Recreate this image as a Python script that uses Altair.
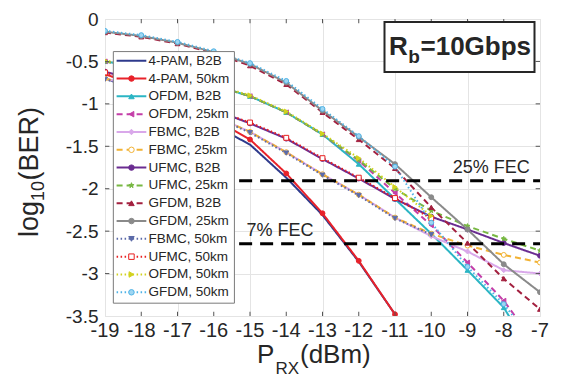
import altair as alt
import pandas as pd

# ---------------- data ----------------
SERIES = ["4-PAM, B2B", "4-PAM, 50km", "OFDM, B2B", "OFDM, 25km", "FBMC, B2B",
          "FBMC, 25km", "UFMC, B2B", "UFMC, 25km", "GFDM, B2B", "GFDM, 25km",
          "FBMC, 50km", "UFMC, 50km", "OFDM, 50km", "GFDM, 50km"]

P_FULL = [-19, -18, -17, -16, -15, -14, -13, -12, -11, -10, -9, -8, -7]
P_TO_11 = [-19, -18, -17, -16, -15, -14, -13, -12, -11]
P_TO_10 = [-19, -18, -17, -16, -15, -14, -13, -12, -11, -10]

PAM_B2B = [-0.70, -0.85, -1.03, -1.25, -1.48, -1.87, -2.31, -2.86, -3.48]
PAM_50 = [-0.65, -0.80, -0.97, -1.18, -1.42, -1.82, -2.29, -2.85, -3.48]
OFDM_B2B = [-0.50, -0.57, -0.66, -0.78, -0.91, -1.10, -1.36, -1.71, -2.12, -2.53, -2.96, -3.40, -4.10]
OFDM_25 = [-0.50, -0.57, -0.66, -0.78, -0.91, -1.10, -1.36, -1.67, -2.05, -2.43, -2.87, -3.32, -3.90]
OFDM_50 = [-0.49, -0.56, -0.65, -0.77, -0.90, -1.09, -1.35, -1.64, -1.98, -2.32]
FBMC_B2B = [-0.70, -0.82, -0.97, -1.14, -1.33, -1.57, -1.83, -2.07, -2.34, -2.56, -2.74, -2.96, -3.00]
FBMC_25 = [-0.70, -0.82, -0.97, -1.14, -1.33, -1.57, -1.83, -2.07, -2.34, -2.53, -2.67, -2.78, -2.87]
FBMC_50 = [-0.71, -0.83, -0.98, -1.15, -1.34, -1.58, -1.84, -2.08, -2.35, -2.54]
UFMC_B2B = [-0.62, -0.74, -0.88, -1.07, -1.23, -1.41, -1.65, -1.88, -2.12, -2.33, -2.48, -2.64, -2.79]
UFMC_25 = [-0.50, -0.57, -0.66, -0.78, -0.91, -1.10, -1.36, -1.66, -2.00, -2.26, -2.44, -2.59, -2.73]
UFMC_50 = [-0.63, -0.75, -0.89, -1.07, -1.22, -1.40, -1.64, -1.87, -2.11, -2.35]
GFDM_B2B = [-0.16, -0.21, -0.29, -0.40, -0.55, -0.77, -1.10, -1.42, -1.76, -2.22, -2.64, -3.06, -3.42]
GFDM_25 = [-0.15, -0.20, -0.28, -0.39, -0.53, -0.75, -1.08, -1.39, -1.71, -2.10, -2.48, -2.89, -3.22]
GFDM_50 = [-0.14, -0.19, -0.27, -0.38, -0.52, -0.73, -1.06, -1.38, -1.74, -2.40, -2.92, -3.36, -3.90]

SERIES_DATA = {
    "4-PAM, B2B": (P_TO_11, PAM_B2B),
    "4-PAM, 50km": (P_TO_11, PAM_50),
    "OFDM, B2B": (P_FULL, OFDM_B2B),
    "OFDM, 25km": (P_FULL, OFDM_25),
    "FBMC, B2B": (P_FULL, FBMC_B2B),
    "FBMC, 25km": (P_FULL, FBMC_25),
    "UFMC, B2B": (P_FULL, UFMC_B2B),
    "UFMC, 25km": (P_FULL, UFMC_25),
    "GFDM, B2B": (P_FULL, GFDM_B2B),
    "GFDM, 25km": (P_FULL, GFDM_25),
    "FBMC, 50km": (P_TO_10, FBMC_50),
    "UFMC, 50km": (P_TO_10, UFMC_50),
    "OFDM, 50km": (P_TO_10, OFDM_50),
    "GFDM, 50km": (P_FULL, GFDM_50),
}

FEC_LABELS = ["25% FEC", "7% FEC"]
FEC_LEVELS = [-1.907, -2.648]
FEC_START = -15.3
FEC_LABEL_X = [-9.41, -15.10]

X_TICKS = P_FULL
X_TICK_LABELS = ["-19", "-18", "-17", "-16", "-15", "-14", "-13", "-12", "-11", "-10", "-9", "-8", "-7"]
Y_TICKS = [0, -0.5, -1, -1.5, -2, -2.5, -3, -3.5]
X_RANGE = [-19, -7]
Y_RANGE = [-3.5, 0]

# ---------------- styles ----------------
COLORS = ["#2e3a8c", "#e8222a", "#2bb5c4", "#c43ea8", "#d9a8ea", "#f2b233",
          "#6a2c91", "#78b843", "#a3203f", "#8a8a8a", "#5b6aa8", "#e82020",
          "#d2d21e", "#4fb3e6"]
SOLID, DASH, DOT = [1, 0], [6, 4], [1.5, 2.5]
DASHES = [SOLID, SOLID, SOLID, DASH, SOLID, DASH, SOLID, DASH, DASH, SOLID, DOT, DOT, DOT, DOT]
WIDTHS = [2, 2, 1.8, 1.8, 3, 1.8, 1.8, 1.8, 1.8, 1.8, 1.8, 1.8, 1.8, 1.8]
STAR = ("M0,-1L0.235,-0.324L0.951,-0.309L0.38,0.124L0.588,0.809L0,0.4L-0.588,0.809"
        "L-0.38,0.124L-0.951,-0.309L-0.235,-0.324Z")
SHAPES = ["circle", "circle", "triangle-up", "triangle-left", "diamond", "circle",
          "circle", STAR, "triangle-up", "circle", "triangle-down", "square",
          "triangle-right", "circle"]
FILLS = [COLORS[0], COLORS[1], COLORS[2], COLORS[3], COLORS[4], "white",
         COLORS[6], COLORS[7], COLORS[8], COLORS[9], COLORS[10], "white",
         COLORS[12], "#9fd6f2"]

rows = []
for name in SERIES:
    xs_, ys_ = SERIES_DATA[name]
    for xv, yv in zip(xs_, ys_):
        rows.append({"series": name, "x": xv, "y": yv})
df = pd.DataFrame(rows)
df_pts = df[df["series"] != "4-PAM, B2B"]

# legend table (in data units of the plot)
LEG_Y0, LEG_STEP = -0.492, 0.2099
leg = pd.DataFrame({"series": SERIES})
leg["ly"] = [LEG_Y0 - i * LEG_STEP for i in range(len(SERIES))]
leg["lx1"], leg["lx2"], leg["lxm"], leg["lxt"] = -18.68, -17.86, -18.27, -17.80
leg_pts = leg[leg["series"] != "4-PAM, B2B"]
leg_box = pd.DataFrame({"x1": [-18.77], "x2": [-15.43], "y1": [-0.384], "y2": [-3.349]})

fec = pd.DataFrame({"label": FEC_LABELS, "y": FEC_LEVELS, "lx": FEC_LABEL_X})
fec["x1"], fec["x2"] = FEC_START, X_RANGE[1]

xlab = pd.DataFrame({"x": X_TICKS, "t": X_TICK_LABELS})

# inward tick marks on all four sides of the box
TX, TY = 0.12, 0.05
tk_rows = []
for v in X_TICKS[1:-1]:
    tk_rows.append({"x": v, "x2": v, "y": Y_RANGE[0], "y2": Y_RANGE[0] + TY})
    tk_rows.append({"x": v, "x2": v, "y": Y_RANGE[1], "y2": Y_RANGE[1] - TY})
for v in Y_TICKS[1:-1]:
    tk_rows.append({"x": X_RANGE[0], "x2": X_RANGE[0] + TX, "y": v, "y2": v})
    tk_rows.append({"x": X_RANGE[1], "x2": X_RANGE[1] - TX, "y": v, "y2": v})
ticks_df = pd.DataFrame(tk_rows)

FONT = "Liberation Sans"
TXT = "#262626"
TOP = 11  # plot top offset inside the svg
H = 308 - TOP

xsc = alt.Scale(domain=X_RANGE, nice=False, zero=False)
ysc = alt.Scale(domain=Y_RANGE, nice=False, zero=False)
col = alt.Scale(domain=SERIES, range=COLORS)
dsh = alt.Scale(domain=SERIES, range=DASHES)
wid = alt.Scale(domain=SERIES, range=WIDTHS)
shp = alt.Scale(domain=SERIES, range=SHAPES)
fil = alt.Scale(domain=SERIES, range=FILLS)

X = alt.X("x:Q", scale=xsc, title=None,
          axis=alt.Axis(values=X_TICKS, labels=False, grid=True,
                        gridColor="#e4e4e4", ticks=False, domain=False))
Y = alt.Y("y:Q", scale=ysc, title=None,
          axis=alt.Axis(values=Y_TICKS, labelExpr="'' + datum.value", grid=True,
                        gridColor="#e4e4e4", ticks=False, domain=False,
                        labelFontSize=19, labelFont=FONT, labelColor=TXT,
                        labelPadding=7, labelOverlap=False, labelFlush=False))

lines = alt.Chart(df).mark_line(clip=True).encode(
    x=X, y=Y,
    color=alt.Color("series:N", scale=col, legend=None),
    strokeDash=alt.StrokeDash("series:N", scale=dsh, legend=None),
    strokeWidth=alt.StrokeWidth("series:N", scale=wid, legend=None),
    order="x:Q",
)
points = alt.Chart(df_pts).mark_point(filled=True, clip=True, size=24, strokeWidth=1, opacity=1).encode(
    x="x:Q", y="y:Q",
    shape=alt.Shape("series:N", scale=shp, legend=None),
    fill=alt.Fill("series:N", scale=fil, legend=None),
    stroke=alt.Stroke("series:N", scale=col, legend=None),
)
x_labels = alt.Chart(xlab).mark_text(baseline="top", align="center", fontSize=20,
                                     font=FONT, color=TXT).encode(
    x="x:Q", y=alt.value(H + 5), text="t:N")
box_ticks = alt.Chart(ticks_df).mark_rule(color="#555555", strokeWidth=1).encode(
    x="x:Q", x2="x2:Q", y="y:Q", y2="y2:Q")
fec_rules = alt.Chart(fec).mark_rule(color="black", strokeWidth=3, strokeDash=[13, 8]).encode(
    x="x1:Q", x2="x2:Q", y="y:Q")
fec_text = alt.Chart(fec).mark_text(align="left", baseline="alphabetic", dy=-8,
                                    fontSize=18, font=FONT, color=TXT).encode(
    x="lx:Q", y="y:Q", text="label:N")

legend_box = alt.Chart(leg_box).mark_rect(fill="white", stroke="#7a7a7a", strokeWidth=1).encode(
    x="x1:Q", x2="x2:Q", y="y1:Q", y2="y2:Q")
legend_lines = alt.Chart(leg).mark_rule().encode(
    x="lx1:Q", x2="lx2:Q", y="ly:Q",
    color=alt.Color("series:N", scale=col, legend=None),
    strokeDash=alt.StrokeDash("series:N", scale=dsh, legend=None),
    strokeWidth=alt.StrokeWidth("series:N", scale=wid, legend=None),
)
legend_pts = alt.Chart(leg_pts).mark_point(filled=True, size=30, strokeWidth=1, opacity=1).encode(
    x="lxm:Q", y="ly:Q",
    shape=alt.Shape("series:N", scale=shp, legend=None),
    fill=alt.Fill("series:N", scale=fil, legend=None),
    stroke=alt.Stroke("series:N", scale=col, legend=None),
)
legend_text = alt.Chart(leg).mark_text(align="left", baseline="middle", fontSize=13.5,
                                       font=FONT, color=TXT).encode(
    x="lxt:Q", y="ly:Q", text="series:N")

one = alt.Data(values=[{"k": 1}])


def label(txt, x, y, size, angle=0, weight="normal", align="left"):
    return alt.Chart(one).mark_text(align=align, baseline="alphabetic", fontSize=size,
                                    font=FONT, color=TXT, angle=angle,
                                    fontWeight=weight).encode(
        x=alt.value(x), y=alt.value(y - TOP + 7), text=alt.value(txt))


rb_box = alt.Chart(one).mark_rect(fill="white", stroke="#262626", strokeWidth=2).encode(
    x=alt.value(279.5), x2=alt.value(429.5), y=alt.value(7 - TOP + 7), y2=alt.value(57 - TOP + 7))

titles = [
    label("P", 152, 348, 26),
    label("RX", 170.5, 358.5, 17),
    label("(dBm)", 195, 348, 26),
    label("log", -67, 222, 27, angle=270),
    label("10", -61, 186, 18, angle=270),
    label("(BER)", -67, 165.5, 27, angle=270),
    label("R", 284, 40, 26, weight="bold"),
    label("b", 303.3, 48, 19, weight="bold"),
    label("=10Gbps", 315.5, 40, 26, weight="bold"),
]

chart = alt.layer(
    lines, points, box_ticks, fec_rules, legend_box, legend_lines, legend_pts, legend_text,
    fec_text, x_labels, rb_box, *titles
).properties(
    width=435, height=H,
    autosize=alt.AutoSizeParams(type="none"),
    padding={"left": 97, "top": TOP, "right": 14, "bottom": 63},
).configure_view(stroke="#555555", strokeWidth=1).configure(background="white")

chart.save("out.html", embed_options={"renderer": "svg", "actions": False})
